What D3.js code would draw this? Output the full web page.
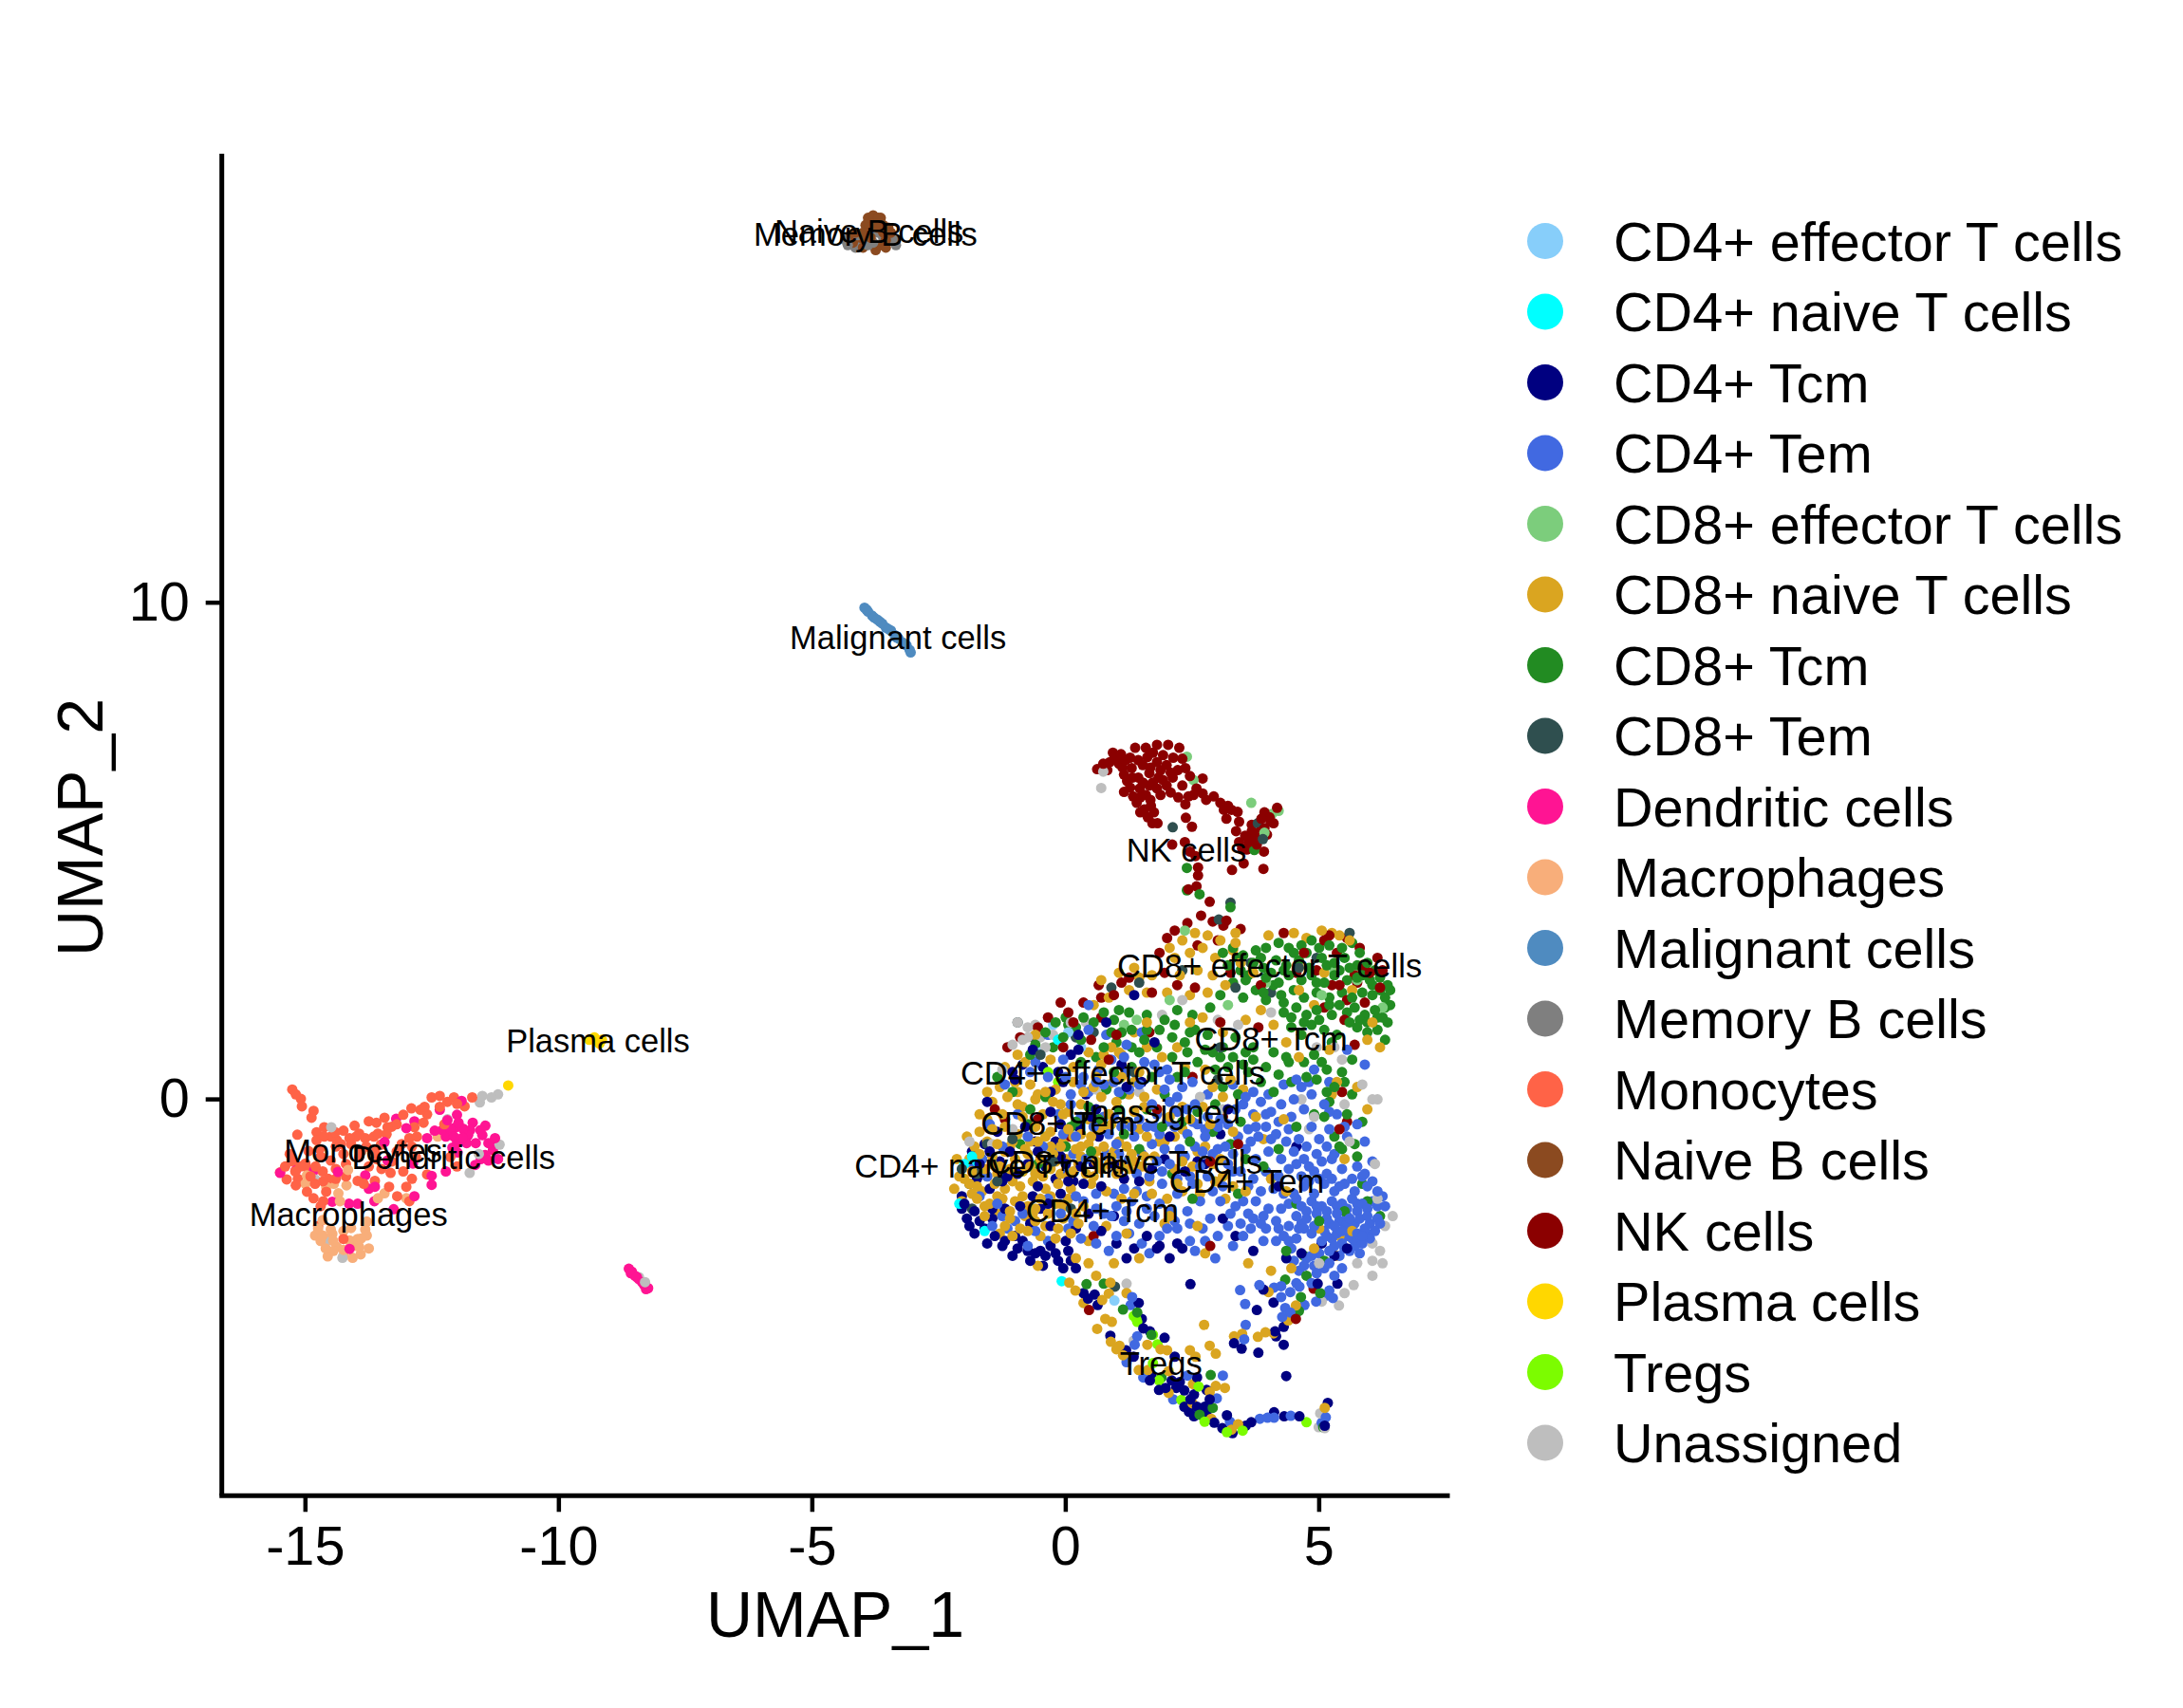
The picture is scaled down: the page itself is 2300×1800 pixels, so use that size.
<!DOCTYPE html>
<html><head><meta charset="utf-8"><script src="https://cdn.jsdelivr.net/npm/d3@7"></script>
<style>html,body{margin:0;background:#fff}svg{display:block}text{font-family:"Liberation Sans",Arial,sans-serif;fill:#000}</style></head>
<body><svg id="c" width="2300" height="1800"></svg>
<script>
const categories=["CD4+ effector T cells","CD4+ naive T cells","CD4+ Tcm","CD4+ Tem","CD8+ effector T cells","CD8+ naive T cells","CD8+ Tcm","CD8+ Tem","Dendritic cells","Macrophages","Malignant cells","Memory B cells","Monocytes","Naive B cells","NK cells","Plasma cells","Tregs","Unassigned"];
const colours=["#87CEFA","#00FFFF","#000080","#4169E1","#7CCD7C","#DAA520","#228B22","#2F4F4F","#FF1493","#F8AE7A","#4F8BC0","#7F7F7F","#FF6347","#8B4A20","#8B0000","#FFD700","#7CFC00","#BEBEBE"];
const xTicks=[-15,-10,-5,0,5];
const yTicks=[0,10];
const cd4Eff=[-.25,1.5,.05,1.35,.3,1.05,.96,-4.05,-.5,.95,-.6,-1.45];
const cd4Naive=[-.08,-3.66,-.15,1.2,-2.0,-1.3,-1.85,-1.15,-2.1,-2.1,-1.6,-2.65,-1.75,-1.25];
const cd4Tcm=[.35,-3.9,.44,-4.01,.57,-3.93,.63,-4.14,1.44,-4.1,1.5,-4.42,1.53,-4.61,1.66,-4.67,1.95,-4.8,.88,-4.76,1.19,-5.05,1.34,-5.18,2.15,-5.18,1.69,-5.56,1.66,-5.66,2.09,-5.66,2.25,-5.69,2.59,-5.6,1.84,-5.85,1.97,-5.81,2.18,-5.81,2.34,-5.86,2.78,-5.85,2.53,-5.94,2.46,-6.04,2.34,-6.19,2.43,-6.29,2.59,-6.19,2.74,-6.19,2.84,-6.04,2.53,-6.38,2.78,-6.29,2.93,-6.51,3.18,-6.36,3.09,-6.62,3.29,-6.72,3.55,-6.57,3.66,-6.5,4.11,-6.3,4.31,-6.38,4.61,-6.38,5.17,-6.11,5.11,-6.57,2.46,-3.72,3.9,-3.83,3.77,-4.24,4.1,-4.09,4.3,-4.58,4.13,-4.67,4.15,-4.77,4.3,-4.94,3.8,-5.1,3.32,-4.91,3.47,-5.02,4.35,-5.57,4.97,-3.71,5.36,-3.71,
-2.05,-2.2,-1.95,-2.4,-1.8,-2.25,-1.6,-2.6,-1.4,-2.75,-1.55,-2.9,-1.25,-2.95,-1.05,-3.15,-.85,-2.85,-.6,-3.1,-.45,-3.35,-.3,-2.95,-.15,-3.25,.05,-3.05,.2,-3.4,-1.85,-1.05,-1.6,-.9,-1.7,-1.3,-1.3,-1.25,-1.1,-1.05,-.95,-1.5,-.75,-1.3,-.55,-1.05,-.4,-1.35,-.2,-1.6,0,-1.3,.15,-1.65,.3,-1.35,-.8,-.55,-.6,-.85,-.1,-.5,-1.55,-.05,-1.35,-.65,-1.05,.55,-.85,.7,-.65,1.0,-.3,.15,-.5,-2.2,-.3,-2.55,-.7,-2.5,-.9,-2.15,-1.2,-2.2,.2,-2.6,.45,-2.3,.7,-2.65,1.0,-2.9,1.35,-3.0,1.2,-3.2,1.85,-2.95,2.05,-3.2,2.3,-3.0,3.1,-2.4,3.35,-2.75,3.7,-3.05,4.2,-1.75,4.55,-.95,3.2,-.2,2.75,-1.3,.4,.1,.25,1.0,.8,1.55,1.35,2.1,1.1,.7,1.5,.35,2.05,-.75,2.6,-1.25,.65,-.75,.95,-1.3,1.15,-1.6,1.45,-1.65,1.7,-1.4,1.95,-1.2,2.35,-1.45,3.05,-.7,5.55,-3.0,5.3,-3.15,5.05,-2.9,4.65,-3.1,4.35,-3.2,-1.75,-1.6,-1.5,-1.8,-1.15,-1.55,-.35,-2.1,-.1,-1.9,-1.45,-2.2,.6,-.2,-.05,.35,-.3,-.25,1.75,1.15,
-2.05,-1.95,-2.0,-2.1,-1.9,-2.55,-1.7,-2.45,-1.8,-2.7,-1.45,-2.4,-1.2,-2.85,-1.0,-2.75,-.95,-3.0,-.7,-3.25,-.75,-3.05,-.5,-3.05,-.4,-3.15,-.2,-3.1,-.05,-3.4,.1,-3.25,.0,-2.85,-1.5,-1.05,-1.25,-1.65,-.55,-1.75,-.65,-1.95,-.1,-1.15,.05,-1.65,.35,-1.7,.55,-1.3,.7,-1.75,.95,-2.35,1.6,-2.75,1.8,-3.0,2.2,-2.9,.5,-.35,.25,-.55,-.2,-.85,-1.0,.4,-.15,.55,.25,1.3,.1,.9,-.45,.65,1.2,.25];
const cd4Tem=[3.44,-3.84,3.54,-4.12,3.55,-4.54,3.52,-4.83,3.82,-3.74,4.11,-3.79,4.25,-3.76,4.43,-3.88,4.61,-3.77,4.25,-3.98,4.33,-4.2,4.43,-4.29,4.27,-4.38,4.71,-4.14,4.94,-4.07,5.14,-3.95,5.27,-4.0,5.2,-3.85,1.28,-4.14,1.31,-3.98,1.41,-4.77,1.36,-4.94,1.2,-5.29,1.53,-5.6,2.4,-5.56,3.1,-5.56,2.12,-6.04,2.98,-6.02,3.83,-6.43,3.98,-6.41,4.11,-6.41,4.44,-6.37,5.13,-6.4,5.05,-6.51,3.24,-6.49,
4.5,-1.9,4.7,-1.75,4.9,-1.9,5.1,-1.7,5.3,-1.85,5.5,-1.7,5.7,-1.85,5.95,-1.75,6.15,-1.85,4.4,-2.1,4.65,-2.15,4.85,-2.05,5.05,-2.15,5.25,-2.05,5.45,-2.1,5.65,-2.0,5.85,-2.1,6.05,-2.05,6.3,-2.15,4.55,-2.35,4.75,-2.4,4.95,-2.3,5.15,-2.4,5.35,-2.3,5.55,-2.35,5.75,-2.25,5.95,-2.35,6.15,-2.4,4.7,-2.6,4.9,-2.55,5.1,-2.65,5.3,-2.55,5.5,-2.6,5.7,-2.5,5.9,-2.6,6.1,-2.65,6.2,-2.5,5.05,-2.85,5.25,-2.8,5.45,-2.9,5.65,-2.8,5.85,-2.9,6.0,-2.8,5.6,-2.65,5.75,-2.7,5.55,-2.5,5.0,-3.1,5.2,-3.05,5.4,-3.15,5.6,-3.05,5.8,-3.1,4.9,-3.35,5.1,-3.4,4.75,-3.2,4.6,-3.45,5.3,-3.55,4.45,-3.0,4.3,-2.75,4.15,-2.45,4.0,-2.2,3.85,-2.5,3.6,-2.3,3.75,-2.05,3.35,-2.15,3.2,-2.55,3.5,-2.75,3.05,-2.05,2.9,-1.85,
3.5,-.1,3.7,-.3,3.85,-.05,4.05,-.25,4.25,-.1,4.5,.0,4.65,.25,4.85,.1,4.7,-.2,4.45,-.35,3.6,-.6,3.8,-.75,3.95,-.55,4.15,-.7,4.4,-.6,4.6,-.8,4.85,-.55,5.0,-.8,5.2,-.6,5.35,-.3,5.55,-.75,5.75,-.5,5.9,-.85,6.05,-1.25,3.3,-1.1,3.55,-1.0,3.75,-1.2,4.0,-1.05,4.25,-1.2,4.5,-1.05,4.7,-1.2,4.95,-1.1,5.25,-1.2,5.45,-1.4,5.75,-1.35,5.9,-1.5,3.45,-1.45,3.7,-1.6,3.95,-1.45,4.2,-1.55,4.4,-1.4,4.65,-1.55,4.9,-1.45,5.15,-1.5,5.55,1.0,5.9,.7,4.9,.6,5.2,.35,
1.85,.55,2.05,.4,1.95,.2,2.2,.05,2.4,-.2,2.05,-.05,1.8,-.3,1.6,-.55,1.85,-.7,2.15,-.55,2.4,-.7,2.6,-.5,2.75,-.75,2.55,-.95,2.25,-1.0,1.95,-1.0,1.7,-.9,1.35,-.75,1.1,-.55,.85,-.7,.55,-.55,.3,-.35,.1,.1,.35,.45,.65,.6,.95,.35,1.25,.2,1.55,.75,1.2,1.1,.8,1.3,.45,1.4,2.5,.35,2.8,.1,3.05,-.4,3.0,-1.0,2.8,-1.55,2.5,-1.7,2.2,-1.9,1.9,-1.7,1.6,-1.95,1.3,-2.05,1.0,-2.15,.75,-2.3,.55,-2.55,1.15,-2.45,1.45,-2.5,1.75,-2.35,2.05,-2.25,2.4,-2.25,2.65,-2.05,2.85,-2.4,3.0,-2.75,.6,-2.9,.85,-3.05,1.5,-2.9,1.65,-3.1,2.55,-3.05,2.75,-2.85,2.95,-3.2,.2,-1.95,-.1,-2.3,-.35,-2.85,-.75,-2.95,-1.15,-2.6,-1.45,-2.55,-1.7,-1.95,-1.85,-1.3,-1.25,-.95,-.95,-.3,-1.2,.3,-.7,.55,-.35,1.3,-.05,.8,.45,1.9,-.3,-1.25,.05,-1.45,
4.55,-2.0,4.75,-2.25,4.95,-2.15,5.15,-2.25,5.35,-2.15,5.55,-2.2,5.75,-2.1,5.95,-2.2,6.15,-2.15,4.65,-2.5,4.85,-2.7,5.0,-2.45,5.2,-2.5,5.4,-2.45,5.6,-2.4,5.8,-2.4,6.0,-2.5,5.15,-2.75,5.35,-2.7,5.55,-2.75,5.75,-2.85,5.95,-2.7,5.3,-2.95,5.5,-3.0,5.7,-2.95,5.45,-2.65,5.65,-2.55,5.85,-2.75,4.85,-3.15,4.95,-3.5,4.7,-3.35,4.4,-2.55,4.55,-2.8,4.25,-2.2,4.2,-2.6,3.95,-2.6,3.7,-2.4,3.45,-2.5,3.25,-2.3,4.3,-1.9,4.1,-1.8,3.85,-1.85,3.6,-1.75,3.3,-1.45,3.1,-1.75,4.8,-1.65,5.0,-1.6,5.25,-1.6,5.4,-1.75,5.65,-1.6,5.85,-1.55,6.05,-1.65,6.25,-1.95,4.55,-1.3,4.8,-1.35,5.05,-1.25,5.15,-.95,5.3,-1.1,4.75,-.95,4.35,-.85,4.05,-.8,3.75,-.55,4.2,-.45,3.95,-.3,3.7,.15,4.0,.1,4.3,.3,4.55,.4,4.8,.35,5.1,-.1,5.2,-.25,5.5,-.55,3.65,-.85,3.4,-.75,3.2,-.5,3.0,-.55,2.8,-.35,2.55,-.1,2.3,.25,2.0,.6,2.7,-1.05,2.35,-1.15,2.05,-1.3,1.75,-.55,1.45,-.4,1.3,-.55,.95,-.35,.75,-.35,1.05,-1.1,.6,-1.9,.9,-2.35,1.2,-2.25,1.6,-2.2,1.85,-2.1,2.15,-2.45,2.45,-2.5,2.7,-2.6,1.25,-2.7,1.0,-2.75,1.85,-2.75,2.0,-2.6,.1,-.1,.3,.3,.6,.35,.0,.45,-.6,.75,-.35,.45,1.5,1.35,1.75,.7,1.15,.85,.15,-2.45,-.35,-2.0,-.6,-2.65,-1.0,-2.45,-1.35,-2.1,-1.55,-1.55,-.75,-.75,-.45,-.95,-.15,-.3,
1.0,-.9,1.25,-1.2,1.5,-1.1,1.8,-1.25,.8,-1.1,.4,-1.2,.15,-1.1,-.15,-1.05,1.4,-1.5,1.65,-1.55,1.9,-1.45,2.2,-1.6,2.45,-1.55,2.65,-1.35,2.9,-1.1,3.15,-.95,3.2,-1.3,2.0,-.45,1.7,-.1,1.45,.3,1.2,.55,.9,.8,2.2,-.25,2.5,-.45,2.75,-.6,.45,.15,.75,.3,1.05,.15,3.35,-.2,3.55,.05,3.3,.3,.2,-.75,-.05,-.7,.35,-2.05,.6,-2.2,.95,-1.9,1.15,-1.8,1.4,-1.85,2.45,-2.85,2.2,-2.6,.3,-2.8,.05,-2.6,-.85,-2.3,-1.25,-2.35,-1.65,-1.2,-1.5,-.5,3.5,-2.05,3.9,-2.35,3.65,-2.6,3.3,-2.95,3.9,-2.85,4.15,-2.85,4.4,-2.85,4.6,-2.6,4.5,-3.25,5.2,-3.3,5.45,-3.4,4.55,-3.7,4.85,-3.7];
const cd8Eff=[3.66,5.97,4.2,5.81,4.07,5.75,3.92,5.37,2.52,6.43,2.39,6.9,2.35,3.4,3.95,2.35,5.05,2.1,5.3,2.6,5.75,2.4,6.25,1.85,1.4,1.6,1.15,1.5,2.05,2.0,3.2,1.9];
const cd8Naive=[.07,-3.69,.19,-3.85,.35,-4.1,.72,-4.04,.85,-3.91,1.2,-3.9,.88,-3.69,.78,-4.42,.91,-4.48,.62,-4.62,2.73,-4.54,.89,-4.88,1.06,-4.96,1.0,-5.03,1.13,-5.15,1.61,-4.94,1.87,-5.03,2.0,-5.05,2.45,-5.05,2.56,-5.18,2.84,-4.96,2.96,-5.12,1.44,-5.45,1.62,-5.45,2.03,-5.47,2.03,-5.91,2.51,-5.73,2.84,-5.89,2.96,-5.77,3.14,-5.81,2.5,-6.12,2.87,-6.43,3.27,-6.65,3.4,-6.54,3.32,-4.77,3.48,-4.72,3.79,-4.78,3.94,-4.69,4.1,-4.71,4.0,-3.88,4.54,-4.15,4.39,-4.45,5.11,-6.21,
-1.3,.25,-1.0,.35,-.7,.3,-.2,.2,.15,.35,.55,.25,-1.45,-.05,-1.15,.05,-.95,-.1,-.6,.0,-.25,-.05,.3,-.1,.7,.05,1.0,-.05,-1.55,-.4,-1.25,-.3,-.85,-.35,-.45,-.3,.05,-.25,.45,-.4,.85,-.3,1.35,-.25,-1.7,-.65,-1.45,-.6,-1.2,-.55,-.95,-.7,-.6,-.55,-.3,-.65,.05,-.6,.3,-.7,.65,-.6,-1.8,-.95,-1.55,-.85,-1.35,-.9,-1.05,-.85,-.8,-1.0,-.55,-.85,-.3,-.95,-.05,-.85,.2,-1.0,.45,-.9,.75,-.95,1.05,-.85,-1.9,-1.2,-1.7,-1.1,-1.45,-1.15,-1.2,-1.05,-1.0,-1.2,-.75,-1.1,-.5,-1.2,-.25,-1.1,0,-1.2,.3,-1.15,.6,-1.25,.9,-1.15,1.3,-1.1,-2.1,-1.55,-1.85,-1.45,-1.6,-1.4,-1.35,-1.5,-1.1,-1.4,-.85,-1.45,-.6,-1.5,-.3,-1.4,-.1,-1.5,.15,-1.45,.4,-1.5,.7,-1.4,1.0,-1.5,1.25,-1.4,-2.2,-1.8,-1.9,-1.7,-1.65,-1.85,-1.4,-1.7,-1.2,-1.8,-.9,-1.75,-.65,-1.65,-.4,-1.8,-.15,-1.7,.1,-1.8,.5,-1.7,.8,-1.85,-2.05,-2.05,-1.75,-2.0,-1.5,-2.1,-1.25,-2.0,-1.0,-2.05,-.75,-2.15,-.5,-2.0,-.2,-2.1,.05,-2.0,.35,-2.15,-1.6,-2.35,-1.35,-2.3,-1.1,-2.4,-.8,-2.35,-.6,-2.45,-.35,-2.3,-.05,-2.4,.25,-2.5,-1.3,-2.7,-1.05,-2.75,-.75,-2.65,-.5,-2.75,-.2,-2.8,.1,-2.7,.45,-2.85,
.2,-3.2,.45,-3.3,.6,-3.55,-.55,-3.35,
2.05,3.05,2.3,3.2,2.55,3.35,2.8,3.3,3.05,3.2,3.3,3.0,2.15,2.85,2.45,2.95,2.7,3.05,2.95,2.85,2.6,2.6,2.9,2.5,2.25,2.5,3.35,3.35,4.0,3.3,4.5,3.35,4.75,3.25,5.05,3.4,5.4,3.3,3.45,2.75,3.7,2.55,3.15,2.3,2.8,2.15,2.45,2.1,2.0,2.15,1.7,2.5,1.45,2.45,1.25,2.2,.85,2.05,.55,1.9,.7,2.4,1.05,2.55,4.6,2.2,5.1,2.55,5.65,2.2,6.05,1.55,4.9,1.9,
1.35,1.35,1.6,1.55,2.7,1.65,3.1,1.35,3.85,1.8,4.35,1.15,5.2,1.0,5.95,1.2,6.2,1.05,4.6,.85,5.25,.1,5.35,.35,.75,.9,.45,.95,-.3,.8,-.6,1.3,-.95,.9,1.05,.95,.15,.65,.6,.45,1.8,.2,1.35,.35,2.35,.65,2.75,.6,2.9,.25,3.25,.4,3.5,.2,3.1,.05,2.45,-.4,2.05,-.35,1.55,-.15,2.7,-.15,3.3,-.65,2.15,-1.4,1.75,-1.15,1.5,-1.35,1.65,-1.65,2.2,-1.7,2.5,-1.35,2.9,-1.3,3.1,-1.55,3.3,-1.75,3.15,-2.0,3.55,-1.85,2.0,-2.0,1.35,-1.9,1.1,-2.0,1.95,-2.5,2.6,-2.55,2.75,-3.1,1.45,-3.2,.95,-3.3,4.05,-1.6,4.35,-1.85,5.0,-2.6,5.4,-2.75,5.65,-2.65,5.35,-3.15,4.9,-3.0,5.5,-1.2,5.95,-.2,5.75,.25,3.9,-.8,4.3,-.4,3.75,-.35,3.6,-3.3,4.05,-3.45,4.45,-3.4,
-1.2,.65,-.8,.75,-1.55,.15,-1.7,-.3,-1.95,-.75,-2.15,-1.2,-2.0,-1.6,-1.75,-1.75,-1.55,-1.55,-1.3,-1.35,-1.05,-1.65,-.7,-1.35,-.45,-1.55,-.2,-1.25,.05,-1.55,.25,-1.3,.55,-1.55,.85,-1.3,1.1,-1.35,-1.85,-1.9,-1.6,-2.15,-1.35,-1.95,-1.1,-2.25,-.85,-1.95,-.6,-2.2,-.3,-1.95,-.05,-2.15,.2,-2.3,-1.2,-2.55,-.9,-2.6,-.65,-2.3,-.4,-2.55,-.15,-2.6,-1.45,-1.3,-1.1,-.95,-.7,-.85,-.4,-.75,-.1,-.95,.15,-.75,.5,-.75,.9,-.5,1.2,-.45,-.85,-.15,-.4,.15,-.05,-.3,.35,.15,.85,.3,1.25,.1,1.55,.05,2.3,-.15,2.85,-.5,3.05,-1.2,2.6,-1.7,2.3,-1.25,.7,.7,1.1,.9,1.9,.85,1.6,1.05,2.05,-2.35,1.2,-2.7,.8,-2.55,1.7,-1.9,
1.6,-.75,1.95,-.85,2.15,-.75,2.3,-.6,1.35,-1.25,1.55,-1.15,1.85,-.85,2.75,-.95,2.6,-1.05,2.95,-1.65,2.65,-1.9,2.3,-1.85,.6,-1.05,.95,-1.05,.75,-.55,1.2,-.95,1.45,-.6,.3,-.95,-.1,-.1,-.55,.1,-.95,.15,1.1,.45,1.45,.55,.9,1.05,1.6,2.15,1.35,2.65,2.45,1.55,2.2,1.05,3.55,1.6,4.1,1.5,3.35,3.15,5.6,3.2,5.25,3.35];
const cd8Tcm=[.41,-3.72,.75,-3.71,1.13,-4.23,1.41,-4.29,1.69,-4.74,1.89,-5.6,2.86,-5.55,2.9,-6.21,2.64,-6.35,4.64,-3.98,4.6,-4.26,5.02,-3.9,5.08,-6.6,4.33,-3.63,2.39,4.66,2.39,4.21,2.64,4.13,3.25,3.87,3.72,5.02,
3.1,2.95,3.3,3.05,3.5,2.9,3.75,3.0,3.95,3.05,4.2,3.15,4.4,3.05,4.65,3.1,4.85,3.2,5.0,3.05,5.2,3.1,5.45,3.05,5.65,3.15,5.8,2.95,3.2,2.7,3.45,2.6,3.7,2.75,3.9,2.65,4.15,2.8,4.35,2.7,4.6,2.8,4.8,2.65,5.05,2.85,5.3,2.75,5.5,2.85,5.75,2.7,5.95,2.75,6.1,2.6,3.3,2.35,3.55,2.4,3.75,2.2,3.95,2.45,4.2,2.35,4.4,2.5,4.65,2.4,4.85,2.5,5.1,2.35,5.3,2.5,5.55,2.4,5.75,2.45,6.0,2.4,6.2,2.45,6.35,2.3,3.05,2.1,3.5,2.05,3.95,2.0,4.25,2.1,4.5,2.2,4.7,2.05,4.95,2.15,5.2,2.05,5.45,2.15,5.65,2.05,5.85,2.15,6.05,2.1,6.3,2.05,6.4,2.2,4.3,1.75,4.55,1.85,4.75,1.7,4.95,1.8,5.25,1.7,5.55,1.75,5.7,1.85,5.9,1.7,6.1,1.8,6.25,1.65,6.4,1.9,6.35,1.55,4.45,1.45,4.65,1.3,4.85,1.5,5.1,1.4,5.35,1.3,5.75,1.45,5.95,1.35,6.15,1.4,6.3,1.2,
.75,1.05,1.0,1.15,1.3,1.05,1.55,1.2,1.8,1.05,2.1,1.25,2.35,1.15,2.55,1.4,2.8,1.3,3.1,1.05,3.35,1.25,3.7,1.05,4.1,.95,4.35,.85,.55,1.55,.2,1.45,-.05,1.25,-.4,1.35,.95,1.6,1.25,1.75,1.6,1.7,1.95,1.6,2.2,1.8,2.5,1.7,2.85,1.85,.3,.75,.6,.85,.95,.55,1.3,.65,1.7,.45,2.2,.45,2.6,.75,2.95,.6,3.3,.85,3.6,.55,3.95,.65,4.45,.35,4.1,.15,3.4,.1,2.95,-.1,2.6,-.25,2.3,-.45,1.9,-.55,1.6,-.2,1.1,.1,.8,.2,.45,-.15,.2,-.45,-.4,.05,-.7,-.2,-1.05,.15,-1.35,.45,
-.9,-.9,-.55,-1.3,.0,-.95,.5,-1.05,1.15,-.7,1.45,-1.0,2.45,-.85,2.9,-.65,3.25,-.9,3.45,-.45,3.55,-1.2,4.2,-1.0,4.55,-.55,4.9,-.3,5.1,-.35,5.3,-.75,5.45,-1.0,5.7,-.9,5.55,-.3,5.15,.15,5.05,.75,5.45,.55,5.65,.8,5.25,1.15,4.75,.45,5.75,-1.15,5.85,-1.7,5.5,-2.25,5.95,-2.05,6.2,-2.35,5.0,-2.45,4.55,-2.1,3.9,-1.35,3.4,-1.9,2.1,-1.5,2.5,-2.0,4.7,-3.15,4.35,-3.05,5.1,-3.25,4.75,-3.55,
3.4,2.85,3.6,2.5,3.85,2.85,4.05,2.55,4.3,2.6,4.5,2.95,4.75,2.95,4.95,2.35,5.15,2.7,5.4,2.6,5.6,2.65,5.85,2.5,6.05,2.3,6.2,2.2,6.3,1.85,6.15,1.65,5.95,1.55,5.8,1.6,5.6,1.55,5.4,1.9,5.2,1.9,5.0,1.6,4.7,1.55,4.45,1.65,4.3,1.95,4.1,2.3,3.9,2.15,.9,1.35,1.1,1.35,1.45,.95,2.1,.85,2.4,.95,-.2,1.55,.05,1.5,.3,1.2,-.6,1.1,1.95,.1,2.35,.55,3.7,.8,3.2,.65,1.05,-.2,.65,-.4,.1,-.55,-.75,-.5,
4.7,.75,4.9,.9,5.15,.6,5.3,.25,5.5,.35,5.65,.1,5.2,-.05,4.95,.4,4.4,.75,4.2,.5,3.85,.35,3.55,.95,3.05,.85,2.75,1.0,2.45,1.35,2.15,1.5,1.85,1.4,1.6,1.4,1.3,1.4,1.05,1.8,.75,1.75,.35,1.65,.0,1.65,-.25,1.05,-.7,.9,2.9,.95,3.1,.25,3.5,.7,5.85,-.45,5.4,-.95];
const cd8Tem=[.97,-3.77,2.11,5.48,3.79,5.31,3.89,5.24,3.79,5.56,3.25,3.96,3.02,3.62,2.3,2.6,1.45,2.35,3.65,2.75,4.05,2.15,4.6,2.65,5.6,3.35,-.65,1.25,-.95,1.55,.55,1.35,.9,2.25,-1.55,-.9,-1.75,-1.5,-2.05,-1.4,-1.85,-2.2,-1.05,-.8,-.25,-1.25,.1,-2.2,1.35,.55,3.0,.4,4.95,2.85,3.35,2.25,-1.9,-1.7,-.5,.9,3.05,1.05,.2,1.25,-1.35,-1.65];
const dendritic=[-13.21,-.39,-13.01,-.58,-12.85,-.44,-12.45,-.63,-12.6,-.78,-12.35,-.21,-11.92,-.03,-12.01,-.31,-11.98,-.47,-12.14,-.59,-12.23,-.75,-12.07,-.75,-11.89,-.59,-11.7,-.47,-11.45,-.53,-11.79,-.72,-11.51,-.72,-11.64,-.88,-12.01,-.88,-11.26,-.78,-11.39,-.88,-13.44,-.86,-11.82,-.88,-11.3,-.94,-11.39,-1.23,-11.2,-1.2,-11.54,-1.2,-12.23,-1.45,-12.51,-1.54,-12.51,-1.72,-15.19,-1.43,-14.83,-1.43,-14.36,-1.46,-13.82,-1.53,-13.75,-1.8,-13.63,-1.76,-14.47,-2.06,-14.14,-2.1,-13.97,-2.1,-13.64,-2.05,-12.85,-1.95,-13.26,-2.21,-14.13,-3.01,-15.5,-1.48,-12.88,-1.29,-13.38,-1.23,-8.62,-3.41,-8.56,-3.47,-8.5,-3.55,-8.42,-3.62,-8.36,-3.68,-8.3,-3.74,-8.24,-3.8,-8.28,-3.82,-12.05,-.57,-12.2,-.42,-11.9,-.77,-11.75,-.62,-11.55,-.62,-12.3,-.62,-12.1,-.97,-11.45,-1.12,-11.3,-1.02,-11.65,-1.32,-12.0,-1.07,-8.58,-3.5,-8.46,-3.58,-8.33,-3.72];
const macrophages=[-12.39,-.75,-14.97,-1.53,-15,-1.7,-14.16,-1.42,-14.19,-1.73,-14.44,-1.7,-14.59,-1.76,-14.35,-1.89,-14.32,-2.05,-13.44,-1.89,-13.01,-1.99,-14.66,-2.43,-14.5,-2.62,-14.81,-2.74,-14.66,-2.74,-14.47,-2.71,-14.1,-2.59,-13.82,-2.62,-13.79,-2.74,-13.97,-2.81,-14.13,-2.84,-14.6,-3.0,-14.38,-2.97,-14.56,-3.16,-14.25,-3.03,-14.07,-3.19,-13.91,-3.12,-13.75,-3.0,-13.94,-2.97,-13.79,-2.46,-13.57,-1.99,-14.7,-2.85,-14.45,-2.85,-14.25,-2.65,-14.05,-2.95,-14.45,-3.05,-14.25,-3.15,-13.9,-2.8,-14.75,-2.6];
const malignant=[-3.97,9.9,-3.9,9.82,-3.82,9.74,-3.72,9.66,-3.62,9.58,-3.55,9.5,-3.45,9.44,-3.38,9.35,-3.3,9.28,-3.22,9.2,-3.14,9.14,-3.08,9.05,-3.06,9.0,-3.93,9.86,-3.78,9.7,-3.67,9.62,-3.5,9.47,-3.34,9.3,-3.18,9.16];
const memoryB=[-4.25,17.3,-4.1,17.4,-3.95,17.3,-3.8,17.25,-3.7,17.45,-3.75,17.65,-3.5,17.3,-3.4,17.35,-3.35,17.2,-4.3,17.2,-4.05,17.25,-3.9,17.2,-3.6,17.35,-4.15,17.15,-4.35,17.3];
const monocytes=[-15.26,.2,-15.19,.1,-15.09,.01,-15.07,-.14,-14.84,-.23,-14.88,-.37,-15.16,-.71,-14.78,-.66,-14.63,-.56,-14.41,-.66,-14.25,-.63,-14.03,-.53,-13.94,-.69,-13.75,-.44,-13.6,-.47,-13.44,-.37,-13.38,-.56,-13.57,-.69,-13.82,-.78,-14.13,-.78,-14.38,-.82,-14.63,-.75,-14.78,-.82,-13.07,-.31,-12.91,-.18,-12.73,-.21,-12.51,.04,-12.35,.07,-12.07,.04,-12.01,-.09,-11.86,-.14,-11.71,.04,-12.67,-.47,-12.85,-.56,-12.95,-.78,-12.26,-.5,-15.31,-1.1,-15.4,-1.35,-15.5,-1.47,-15.37,-1.61,-15.19,-1.73,-14.97,-1.86,-14.84,-1.99,-14.81,-1.7,-14.66,-1.45,-14.5,-1.23,-14.25,-1.1,-13.94,-1.16,-13.63,-1.04,-13.51,-.91,-13.97,-1.64,-13.63,-1.64,-13.32,-1.48,-13.35,-1.76,-13.19,-1.95,-13.01,-1.76,-12.95,-2.05,-12.6,-1.51,-14.59,-1.86,-15,-1.29,-14.94,-1.04,-14.72,-1.0,-13.07,-1.45,-12.01,-1.35,-14.25,-2.81,-14.75,-2.55,-12.14,-1.16,-12.82,-1.16,-13.75,-1.35,-13.3,-.55,-14.4,-.95,-14.1,-.9,-13.8,-.95,-15.15,-1.6,-14.9,-1.55,-14.55,-1.6,-12.9,-.95,-13.2,-1.05,-14.7,-1.15,-15.1,-1.35,-14.5,-.75,-14.3,-.9,-14.0,-.75,-13.65,-.75,-13.4,-.7,-13.2,-.5,-13.9,-1.05,-13.6,-1.2,-13.3,-1.25,-14.2,-1.3,-14.4,-1.4,-14.8,-1.35,-15.2,-1.45,-15.25,-1.25,-14.95,-1.4,-14.65,-1.65,-14.4,-1.6,-13.85,-1.7,-14.2,-1.55,-13.5,-1.4,-13.1,-.9,-12.8,-.75,-12.6,-.3,-12.35,-.15,-12.2,-.05,-12.65,-.15,-14.65,-2.05,-14.7,-2.15,-12.9,-1.6];
const naiveB=[-4.1,17.2,-4.0,17.45,-3.9,17.65,-3.8,17.8,-3.65,17.75,-3.5,17.55,-3.55,17.3,-3.75,17.1,-3.85,17.35,-3.7,17.55,-4.0,17.15,-3.55,17.15,-4.2,17.25,-3.95,17.6,-3.75,17.6,-3.6,17.6,-3.45,17.45,-3.6,17.45,-3.9,17.25,-3.65,17.2,-3.9,17.75,-3.7,17.75,-4.05,17.35,-4.25,17.4,-4.15,17.45,-4.3,17.3];
const nk=[.62,6.65,.74,6.76,.93,6.98,1.09,6.95,.87,6.79,1.05,6.76,1.18,6.83,1.37,7.08,1.58,7.08,1.8,7.14,2.02,7.14,2.24,7.08,2.3,6.86,2.36,6.67,2.45,6.51,2.21,6.63,1.99,6.73,1.8,6.79,1.61,6.89,1.43,6.83,1.3,6.67,1.15,6.54,1.21,6.41,1.43,6.48,1.65,6.57,1.83,6.48,1.99,6.32,2.11,6.48,2.3,6.32,1.8,6.26,1.65,6.32,1.46,6.26,1.15,6.19,1.33,6.1,1.58,6.13,1.4,5.97,1.55,5.84,1.74,5.78,1.68,5.91,1.71,5.56,1.81,5.56,2.7,6.46,2.58,6.26,2.7,6.16,2.42,6.1,2.36,5.94,2.92,6.1,3.05,5.97,3.2,5.91,3.39,5.79,3.17,5.65,3.42,5.59,3.36,5.4,2.37,5.67,2.49,5.49,2.1,5.13,2.35,5.18,2.45,4.99,2.56,4.9,2.61,4.67,2.61,4.51,2.42,4.23,2.58,4.29,2.84,3.98,2.67,3.7,2.9,3.58,3.17,3.6,3.11,3.5,3.45,3.43,4.17,5.87,3.92,5.78,3.86,5.65,4.04,5.59,4.1,5.56,3.92,5.46,3.67,5.4,3.54,5.31,3.42,5.18,3.61,5.18,3.48,5.05,3.7,5.24,3.91,4.99,3.51,4.75,3.28,4.62,3.9,4.64,
2.15,3.4,2.4,3.55,2.0,3.25,1.85,2.95,2.6,3.1,3.0,3.2,4.3,3.35,5.1,3.2,5.35,2.95,5.55,3.25,5.8,3.05,5.9,2.65,6.15,2.85,6.25,2.6,5.7,2.5,5.4,2.3,4.95,2.6,4.55,2.55,3.85,2.3,3.25,2.55,2.55,2.25,2.2,2.3,1.95,2.55,1.7,2.15,1.25,2.45,.95,2.1,.65,2.3,.35,1.95,.05,1.75,-.1,1.95,-.55,1.45,-.9,1.25,-1.15,1.05,-.05,1.05,.5,1.2,.7,1.65,1.0,1.3,1.65,1.35,5.1,1.85,5.5,1.6,5.9,1.95,6.2,2.25,5.7,1.1,3.8,1.45,3.05,1.55,2.5,.45,1.8,-.2,3.4,-.9,3.1,-.35,2.85,-1.25,-.55,-.4,-1.2,-.4,-1.4,-.2,.1,-.75,.85,.8,5.45,.15,5.55,-.45,5.4,-.6,.46,-4.24,4.54,-4.42,4.89,-3.81,.55,-2.75,2.85,-2.95,
1.12,6.68,.82,6.63,.97,6.88,1.27,6.88,1.52,6.73,1.72,6.98,1.92,6.93,2.12,6.88,1.67,6.68,1.87,6.63,2.07,6.58,1.32,6.48,1.52,6.38,1.72,6.38,1.92,6.43,1.27,6.28,1.47,6.08,1.67,6.03,1.87,6.13,2.07,6.18,2.22,6.08,2.52,6.13,2.77,6.03,3.12,5.83,3.27,5.83,1.47,5.78,1.62,5.68,3.67,5.53,3.82,5.38,3.77,5.13,3.57,5.03,4.02,5.68,3.97,5.33,5.25,2.3,5.55,2.0,5.75,2.35,6.0,2.55,5.2,3.3,4.7,2.95,1.1,2.35,.7,2.05,.15,1.55,-.35,1.65];
const plasma=[-9.4,1.2,-9.3,1.25,-9.15,1.2,-9.2,1.12,-11.0,.28];
const tregs=[1.34,-4.36,1.41,-4.48,1.72,-4.74,1.81,-4.93,1.72,-5.31,1.84,-5.66,2.62,-5.78,2.28,-6.05,2.74,-6.49,3.49,-6.67,4.75,-6.5,3.18,-6.7,1.39,-4.42,-.15,.35,-.35,.55];
const unassigned=[1.2,-3.71,5.02,-6.32,4.99,-6.6,5.11,-6.62,5.05,-4.07,5.39,-4.15,5.68,-3.74,1.34,-4.86,-14.49,-.56,-12.2,-.4,-11.51,.07,-11.33,.04,-11.2,.1,-11.56,-.06,-11.17,-.91,-11.76,-1.48,-11.58,-1.1,-14.81,-1.61,-14.56,-2.84,-14.27,-3.19,-8.42,-3.58,-8.3,-3.68,.7,6.27,.74,6.6,
-.95,1.55,-.75,1.25,-.6,1.5,-.4,1.05,-.25,1.3,-1.25,.6,-1.45,-.9,-1.05,-.6,.1,1.55,.4,1.55,1.9,1.7,2.3,2.0,3.0,1.6,3.4,1.5,4.05,1.75,4.95,1.05,5.3,1.05,5.45,.8,5.85,.3,6.05,.0,6.15,.0,4.9,-.35,4.65,.0,5.5,-.1,5.6,-.85,4.8,-.6,6.1,-1.3,6.15,-2.0,6.3,-2.55,6.45,-2.35,6.2,-3.05,6.05,-3.25,5.75,-3.3,5.5,-3.9,5.0,-3.3,.6,.2,1.45,.15,2.65,.05,3.1,-.2,-1.9,-.85,-.75,1.45,-.5,1.25,-.85,1.2,-1.05,1.1,6.05,-2.9,6.25,-3.3,6.05,-3.55];
const labelNames=["Naive B cells","Memory B cells","Malignant cells","NK cells","CD8+ effector T cells","CD8+ Tcm","Plasma cells","CD4+ effector T cells","Unassigned","CD8+ Tem","CD4+ naive T cells","CD8+ naive T cells","Dendritic cells","Monocytes","CD4+ Tem","CD4+ Tcm","Macrophages","Tregs"];
const labelX=[-3.88,-3.95,-3.31,2.38,4.02,4.05,-9.23,.93,1.74,-.15,-1.46,1.17,-12.08,-13.86,3.57,.72,-14.15,1.88];
const labelY=[17.48,17.42,9.31,5.03,2.69,1.23,1.19,.53,-.25,-.48,-1.34,-1.26,-1.17,-1.03,-1.65,-2.24,-2.32,-5.31];
const seriesValues=[cd4Eff,cd4Naive,cd4Tcm,cd4Tem,cd8Eff,cd8Naive,cd8Tcm,cd8Tem,dendritic,macrophages,malignant,memoryB,monocytes,naiveB,nk,plasma,tregs,unassigned];

const svg=d3.select("#c");
const x=d3.scaleLinear().domain([-16.65,7.53]).range([233.7,1525]);
const y=d3.scaleLinear().domain([-7.98,19.04]).range([1576.3,162]);
const colour=d3.scaleOrdinal(categories,colours);
const points=[];
seriesValues.forEach((arr,s)=>{const n=arr.length/2;for(let i=0;i<n;i++)points.push({cat:categories[s],x:arr[2*i],y:arr[2*i+1],order:(i*0.618034)%1});});
points.sort((a,b)=>a.order-b.order);
svg.append("g").selectAll("circle").data(points).join("circle")
 .attr("cx",d=>x(d.x)).attr("cy",d=>y(d.y)).attr("r",5.5).attr("fill",d=>colour(d.cat));

const xAxis=d3.axisBottom(x).tickValues(xTicks).tickSizeInner(17).tickSizeOuter(0).tickPadding(15).tickFormat(d=>String(d)).offset(0);
const yAxis=d3.axisLeft(y).tickValues(yTicks).tickSizeInner(17).tickSizeOuter(0).tickPadding(17).tickFormat(d=>String(d)).offset(0);
const gx=svg.append("g").attr("transform","translate(0,1576.3)").call(xAxis);
const gy=svg.append("g").attr("transform","translate(233.7,0)").call(yAxis);
[gx,gy].forEach(g=>{g.select(".domain").attr("stroke","#000").attr("stroke-width",5);g.selectAll(".tick line").attr("stroke","#000").attr("stroke-width",4.5);g.selectAll("text").style("font-size","57.6px").attr("fill","#000").style("font-family","Liberation Sans");});
gx.select(".domain").attr("stroke-linecap","square");
svg.append("text").attr("x",880).attr("y",1725).attr("text-anchor","middle").style("font-size","68px").text("UMAP_1");
svg.append("text").attr("transform","translate(108,872) rotate(-90)").attr("text-anchor","middle").style("font-size","68px").text("UMAP_2");

svg.append("g").selectAll("text").data(labelNames).join("text")
 .attr("x",(d,i)=>x(labelX[i])).attr("y",(d,i)=>y(labelY[i])).attr("dy","0.36em")
 .attr("text-anchor","middle").style("font-size","34.5px").text(d=>d);

const lg=svg.append("g").selectAll("g").data(categories).join("g")
 .attr("transform",(d,i)=>`translate(1628,${254+i*74.5})`);
lg.append("circle").attr("r",19).attr("fill",d=>colour(d));
lg.append("text").attr("x",72).attr("dy","0.36em").style("font-size","57.6px").text(d=>d);
</script></body></html>
